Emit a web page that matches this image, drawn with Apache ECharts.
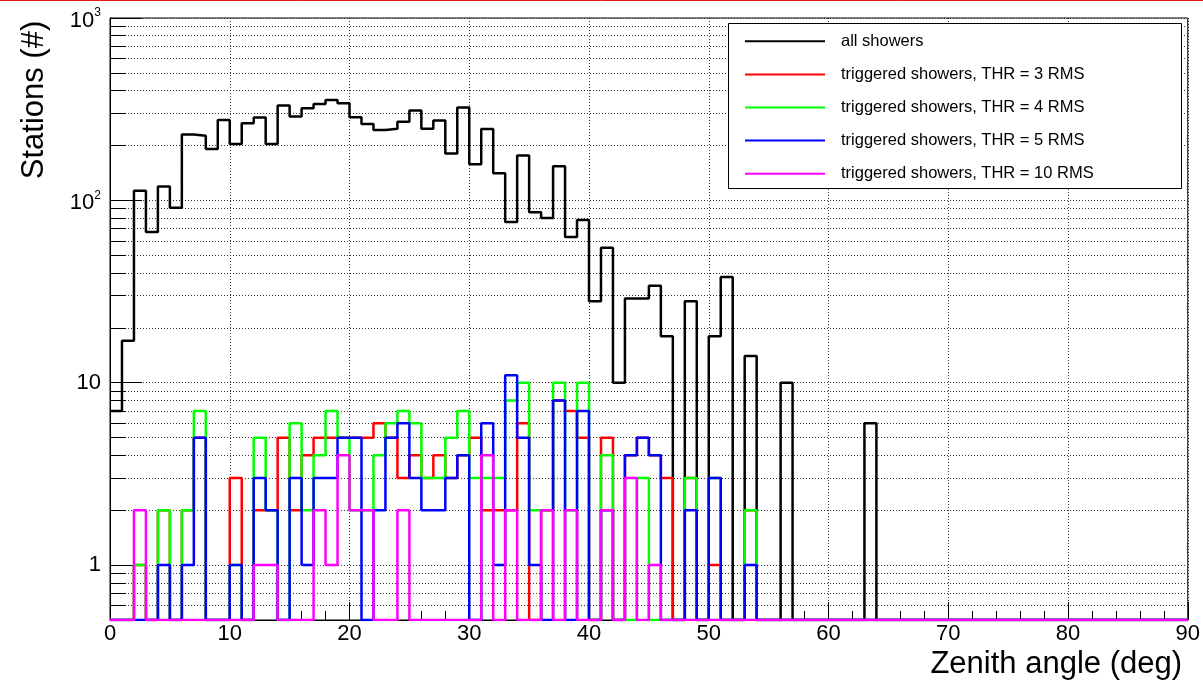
<!DOCTYPE html>
<html>
<head>
<meta charset="utf-8">
<title>Stations vs zenith angle</title>
<script src="https://cdn.jsdelivr.net/npm/echarts@6/dist/echarts.min.js"></script>
<style>
  html, body { margin: 0; padding: 0; background: #ffffff; }
  #chart { width: 1203px; height: 683px; }
</style>
</head>
<body>
<div id="chart"></div>
<script>
// Zenith-angle bins (1 degree wide), lower edges in degrees
const binLowEdges = [
  0, 1, 2, 3, 4, 5, 6, 7, 8, 9,
  10, 11, 12, 13, 14, 15, 16, 17, 18, 19,
  20, 21, 22, 23, 24, 25, 26, 27, 28, 29,
  30, 31, 32, 33, 34, 35, 36, 37, 38, 39,
  40, 41, 42, 43, 44, 45, 46, 47, 48, 49,
  50, 51, 52, 53, 54, 55, 56, 57, 58, 59,
  60, 61, 62, 63, 64, 65, 66, 67, 68, 69,
  70, 71, 72, 73, 74, 75, 76, 77, 78, 79,
  80, 81, 82, 83, 84, 85, 86, 87, 88, 89
];
const binUpperEdge = 90;

// Station counts per bin
const allShowers = [
  7, 17, 113, 67, 119, 91, 230, 226, 191, 276,
  204, 265, 285, 204, 331, 288, 320, 338, 355, 341,
  286, 262, 243, 247, 270, 311, 247, 274, 181, 323,
  158, 246, 141, 76, 176, 86, 80, 154, 63, 78,
  28, 55, 10, 29, 29, 34, 18, 0, 28, 0,
  18, 38, 0, 14, 0, 0, 10, 0, 0, 0,
  0, 0, 0, 6, 0, 0, 0, 0, 0, 0,
  0, 0, 0, 0, 0, 0, 0, 0, 0, 0,
  0, 0, 0, 0, 0, 0, 0, 0, 0, 0
];
const triggeredThr3 = [
  0, 0, 1, 0, 2, 0, 2, 5, 0, 0,
  3, 0, 2, 2, 5, 2, 4, 5, 5, 5,
  5, 5, 6, 5, 3, 4, 3, 4, 3, 4,
  5, 2, 2, 2, 6, 0, 2, 8, 7, 5,
  0, 5, 0, 4, 5, 4, 3, 0, 3, 0,
  1, 0, 0, 2, 0, 0, 0, 0, 0, 0,
  0, 0, 0, 0, 0, 0, 0, 0, 0, 0,
  0, 0, 0, 0, 0, 0, 0, 0, 0, 0,
  0, 0, 0, 0, 0, 0, 0, 0, 0, 0
];
const triggeredThr4 = [
  0, 0, 1, 0, 2, 0, 2, 7, 0, 0,
  1, 0, 5, 2, 0, 6, 2, 4, 7, 5,
  2, 2, 4, 6, 7, 6, 3, 3, 5, 7,
  3, 3, 3, 8, 10, 2, 2, 10, 2, 10,
  0, 4, 0, 0, 3, 0, 0, 0, 3, 0,
  3, 0, 0, 2, 0, 0, 0, 0, 0, 0,
  0, 0, 0, 0, 0, 0, 0, 0, 0, 0,
  0, 0, 0, 0, 0, 0, 0, 0, 0, 0,
  0, 0, 0, 0, 0, 0, 0, 0, 0, 0
];
const triggeredThr5 = [
  0, 0, 0, 0, 1, 0, 1, 5, 0, 0,
  1, 0, 3, 2, 0, 3, 1, 3, 3, 5,
  5, 0, 2, 5, 6, 3, 2, 2, 3, 4,
  0, 6, 1, 11, 5, 1, 0, 8, 0, 7,
  0, 2, 0, 4, 5, 4, 0, 0, 2, 0,
  3, 0, 0, 1, 0, 0, 0, 0, 0, 0,
  0, 0, 0, 0, 0, 0, 0, 0, 0, 0,
  0, 0, 0, 0, 0, 0, 0, 0, 0, 0,
  0, 0, 0, 0, 0, 0, 0, 0, 0, 0
];
const triggeredThr10 = [
  0, 0, 2, 0, 0, 0, 0, 0, 0, 0,
  0, 0, 1, 1, 0, 0, 0, 2, 1, 4,
  2, 2, 0, 0, 2, 0, 0, 0, 0, 0,
  0, 4, 0, 2, 0, 0, 2, 0, 2, 0,
  0, 2, 0, 3, 0, 1, 0, 0, 0, 0,
  0, 0, 0, 0, 0, 0, 0, 0, 0, 0,
  0, 0, 0, 0, 0, 0, 0, 0, 0, 0,
  0, 0, 0, 0, 0, 0, 0, 0, 0, 0,
  0, 0, 0, 0, 0, 0, 0, 0, 0, 0
];

const seriesNames = [
  'all showers',
  'triggered showers, THR = 3 RMS',
  'triggered showers, THR = 4 RMS',
  'triggered showers, THR = 5 RMS',
  'triggered showers, THR = 10 RMS'
];
const seriesColors = ['#000000', '#ff0000', '#00ff00', '#0000ff', '#ff00ff'];

// Axis tick labels
const xTickValues = [0, 10, 20, 30, 40, 50, 60, 70, 80, 90];
const yTickValues = [1, 10, 100, 1000];
const yTickLabels = ['1', '10', '10^2', '10^3'];
const yGridValues = [
  0.6, 0.7, 0.8, 0.9,
  1, 2, 3, 4, 5, 6, 7, 8, 9,
  10, 20, 30, 40, 50, 60, 70, 80, 90,
  100, 200, 300, 400, 500, 600, 700, 800, 900, 1000
];

const Y_MIN = 0.5;
const Y_MAX = 1000;
const FONT = '"Liberation Sans", Arial, Helvetica, sans-serif';
const PLOT_TOP = 18;
const PLOT_BOTTOM = 63;
const CHART_H = 683;

// Histogram outline: one point per bin lower edge plus the upper edge of the last bin.
// Empty bins sit on the lower edge of the log axis.
function histPoints(counts) {
  const pts = counts.map((c, i) => [binLowEdges[i], c > 0 ? c : Y_MIN]);
  const last = counts[counts.length - 1];
  pts.push([binUpperEdge, last > 0 ? last : Y_MIN]);
  return pts;
}

function yLabel(v) {
  const i = yTickValues.findIndex(t => Math.abs(t - v) < 1e-6 * t);
  if (i < 0) return '';
  const parts = yTickLabels[i].split('^');
  return parts.length > 1 ? '{b|' + parts[0] + '}{s|' + parts[1] + '}' : parts[0];
}

// Decades measured from the lower edge of the frame (0 at the bottom)
function decadesAboveMin(v) {
  return Math.log10(v / Y_MIN);
}

const dataSets = [allShowers, triggeredThr3, triggeredThr4, triggeredThr5, triggeredThr10];

const chart = echarts.init(document.getElementById('chart'), null, { renderer: 'canvas' });

const option = {
  animation: false,
  backgroundColor: '#ffffff',
  grid: {
    left: 110, right: 11, top: PLOT_TOP, bottom: PLOT_BOTTOM,
    show: true, borderColor: '#000', borderWidth: 1, backgroundColor: 'transparent'
  },
  xAxis: [
    {
      type: 'value',
      min: xTickValues[0],
      max: xTickValues[xTickValues.length - 1],
      interval: 10,
      axisLine: { show: true, onZero: false, lineStyle: { color: '#000', width: 1 } },
      axisTick: { show: false },
      splitLine: { show: true, lineStyle: { color: '#333', width: 1, type: [1, 2] } },
      axisLabel: { fontSize: 22, fontFamily: FONT, color: '#000', margin: 3 }
    },
    {
      // tick marks along the lower frame edge, pointing up into the frame
      type: 'value',
      position: 'top',
      offset: -(CHART_H - PLOT_TOP - PLOT_BOTTOM),
      min: xTickValues[0],
      max: xTickValues[xTickValues.length - 1],
      interval: 10,
      axisLine: { show: false, onZero: false },
      axisLabel: { show: false },
      splitLine: { show: false },
      axisTick: { show: true, inside: false, length: 18, lineStyle: { color: '#000', width: 1 } },
      minorTick: { show: true, splitNumber: 5, length: 9, lineStyle: { color: '#000', width: 1 } }
    }
  ],
  yAxis: [
    {
      type: 'log',
      logBase: 10,
      min: Y_MIN,
      max: Y_MAX,
      position: 'left',
      axisLine: { show: true, onZero: false, lineStyle: { color: '#000', width: 1 } },
      axisTick: { show: true, inside: true, length: 32, lineStyle: { color: '#000', width: 1 } },
      splitLine: { show: false },
      axisLabel: {
        showMinLabel: false,
        margin: 9,
        fontSize: 22,
        fontFamily: FONT,
        color: '#000',
        formatter: yLabel,
        rich: {
          b: { fontSize: 22, fontFamily: FONT, color: '#000', verticalAlign: 'bottom' },
          s: { fontSize: 12, fontFamily: FONT, color: '#000', padding: [3, 0, 13, 0] }
        }
      }
    },
    {
      // decade subdivisions: short ticks and dotted grid lines
      type: 'value',
      min: 0,
      max: decadesAboveMin(Y_MAX),
      position: 'left',
      axisLine: { show: false, onZero: false },
      axisLabel: { show: false },
      axisTick: {
        show: true, inside: true, length: 16,
        customValues: yGridValues.map(decadesAboveMin),
        lineStyle: { color: '#000', width: 1 }
      },
      splitLine: { show: true, lineStyle: { color: '#333', width: 1, type: [1, 2] } }
    }
  ],
  legend: {
    show: true,
    orient: 'vertical',
    left: 745,
    top: 31.3,
    padding: 0,
    itemWidth: 80,
    itemHeight: 20,
    itemGap: 13.1,
    selectedMode: false,
    icon: 'path://M0,0H80V2H0Z',
    symbolKeepAspect: true,
    data: seriesNames,
    textStyle: { fontSize: 16.5, fontFamily: FONT, color: '#000', lineHeight: 20, padding: [0, 0, 0, 11] },
    z: 6
  },
  graphic: [
    {
      type: 'line', silent: true,
      shape: { x1: 0, y1: 0.5, x2: 1203, y2: 0.5 },
      style: { stroke: '#e41a1c', lineWidth: 1 }
    },
    {
      type: 'rect', silent: true, z: 5,
      shape: { x: 728.5, y: 23.5, width: 453, height: 165 },
      style: { fill: '#ffffff', stroke: '#000', lineWidth: 1 }
    },
    {
      type: 'text', silent: true,
      x: 34, y: 100, rotation: Math.PI / 2,
      style: { text: 'Stations (#)', fontSize: 31, fontFamily: FONT, fill: '#000', align: 'center', verticalAlign: 'middle' }
    },
    {
      type: 'text', silent: true,
      x: 1182, y: 664,
      style: { text: 'Zenith angle (deg)', fontSize: 31, fontFamily: FONT, fill: '#000', align: 'right', verticalAlign: 'middle' }
    }
  ],
  series: dataSets.map((counts, k) => ({
    name: seriesNames[k],
    type: 'line',
    xAxisIndex: 0,
    yAxisIndex: 0,
    step: 'end',
    symbol: 'none',
    showSymbol: false,
    color: seriesColors[k],
    itemStyle: { color: seriesColors[k] },
    lineStyle: { color: seriesColors[k], width: 2.5 },
    data: histPoints(counts),
    z: 2 + k * 0.01
  }))
};

chart.setOption(option);
</script>
</body>
</html>
